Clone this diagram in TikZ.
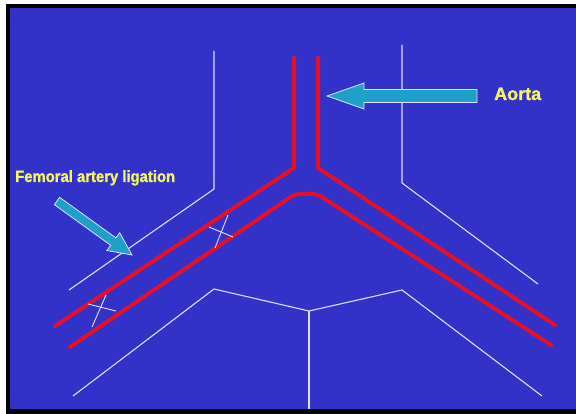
\documentclass[tikz,border=0pt]{standalone}
\usepackage{fontspec}
\setmainfont{Liberation Sans}
\newfontfamily\heavysans[FakeBold=1.2]{Liberation Sans Bold}
\usepackage{graphicx}
\definecolor{slide}{RGB}{50,50,200}
\definecolor{vessel}{RGB}{228,16,40}
\definecolor{outline}{RGB}{222,222,255}
\definecolor{pointer}{RGB}{30,160,200}
\definecolor{caption}{RGB}{245,245,100}
\tikzset{
  artery/.style={draw=vessel, line width=4pt, line join=round, line cap=round},
  contour/.style={draw=outline, line width=1.1pt, line join=miter},
  tie/.style={draw=outline, line width=0.9pt},
  blockarrow/.style={fill=pointer, draw=outline, line width=0.8pt, line join=miter},
  label/.style={text=caption, inner sep=0pt, anchor=base west}
}
\begin{document}
\begin{tikzpicture}[x=1pt, y=-1pt]
  % frame and slide background
  \useasboundingbox (0,0) rectangle (576,414);
  \fill[white] (0,0) rectangle (576,414);
  \fill[black] (6,4) rectangle (576,414);
  \fill[slide] (10,8) rectangle (576,409);

  % body contour
  \coordinate (lt) at (214,51);  \coordinate (lk) at (214,189); \coordinate (le) at (69,290);
  \coordinate (rt) at (402,45);  \coordinate (rk) at (402,183); \coordinate (re) at (538,284);
  \draw[contour] (lt) -- (lk) -- (le);
  \draw[contour] (rt) -- (rk) -- (re);
  \coordinate (bl) at (73,396);  \coordinate (bk) at (214,289); \coordinate (bc) at (309,311);
  \coordinate (bq) at (402,290); \coordinate (br) at (542,396); \coordinate (bb) at (309,409);
  \draw[contour] (bl) -- (bk) -- (bc) -- (bq) -- (br);
  \draw[contour] (bc) -- (bb);

  % aorta and iliac/femoral branches
  \coordinate (a1) at (294,58);  \coordinate (a2) at (294,168); \coordinate (a3) at (55,326);
  \coordinate (b1) at (318,58);  \coordinate (b2) at (318,168); \coordinate (b3) at (555,325);
  \coordinate (c1) at (70,347);  \coordinate (c2) at (295,194); \coordinate (c3) at (317,194);
  \coordinate (c4) at (551,345);
  \draw[artery] (a1) -- (a2) -- (a3);
  \draw[artery] (b1) -- (b2) -- (b3);
  \draw[artery, rounded corners=5pt] (c1) -- (c2) -- (c3) -- (c4);

  % ligature marks
  \coordinate (x1a) at (209,227); \coordinate (x1b) at (233,237);
  \coordinate (x1c) at (228,215); \coordinate (x1d) at (215,248);
  \draw[tie] (x1a) -- (x1b);
  \draw[tie] (x1c) -- (x1d);
  \coordinate (x2a) at (88,304);  \coordinate (x2b) at (116,311);
  \coordinate (x2c) at (106,295); \coordinate (x2d) at (92,327);
  \draw[tie] (x2a) -- (x2b);
  \draw[tie] (x2c) -- (x2d);

  % pointer to the aorta
  \draw[blockarrow] (327,96) -- (364,83) -- (364,89.5) -- (477,89.5)
    -- (477,102.5) -- (364,102.5) -- (364,109) -- cycle;

  % pointer to the femoral artery
  \draw[blockarrow] (132,255) -- (106.9,250.5) -- (110.7,245.3) -- (54.4,204.7)
    -- (59.6,197.3) -- (115.9,237.9) -- (119.7,232.7) -- cycle;

  % captions
  \node[label, font=\heavysans\fontsize{18}{20}\selectfont] (aorta) at (494,100) {Aorta};
  \node[label, font=\heavysans\fontsize{16.3}{18}\selectfont] (lig) at (15,182)
    {\scalebox{0.91}[1]{Femoral artery ligation}};
\end{tikzpicture}
\end{document}
